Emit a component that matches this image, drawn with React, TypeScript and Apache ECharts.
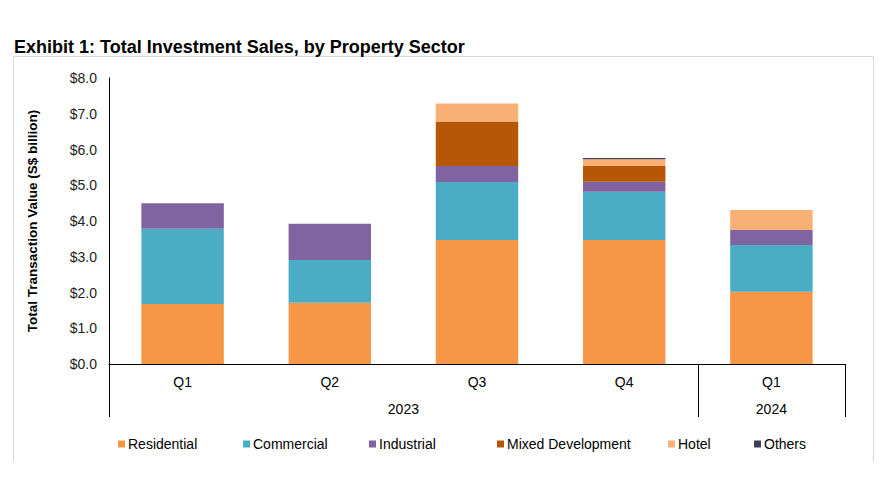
import React, { useEffect, useRef } from "react";
import * as echarts from "echarts";

const quarters = ["Q1", "Q2", "Q3", "Q4", "Q1"];
const years = ["2023", "2024"];
const yearSpans = [4, 1];
const yTicks = [0, 1, 2, 3, 4, 5, 6, 7, 8];

const residential = [1.68, 1.71, 3.47, 3.47, 2.02];
const commercial = [2.1, 1.2, 1.62, 1.35, 1.31];
const industrial = [0.72, 1.01, 0.45, 0.28, 0.42];
const mixedDevelopment = [0, 0, 1.24, 0.44, 0];
const hotel = [0, 0, 0.51, 0.19, 0.56];
const others = [0, 0, 0, 0.03, 0];

const seriesNames = ["Residential", "Commercial", "Industrial", "Mixed Development", "Hotel", "Others"];
const seriesData = [residential, commercial, industrial, mixedDevelopment, hotel, others];
const colors = ["#F79646", "#4BACC6", "#8064A2", "#B65708", "#F9B074", "#403C58"];
const legendLefts = [118, 243, 369, 497, 668, 754];

export default function App() {
  const ref = useRef<HTMLDivElement>(null);
  useEffect(() => {
    if (!ref.current) return;
    const chart = echarts.init(ref.current, null, { renderer: "svg" });
    const font = "'Liberation Sans', Arial, sans-serif";
    const yearPos: Record<string, string> = {};
    let acc = 0;
    years.forEach((y, i) => {
      yearPos[String(acc + yearSpans[i] / 2)] = y;
      acc += yearSpans[i];
    });
    const boundaries = new Set<number>();
    let b = 0;
    yearSpans.forEach((s) => {
      boundaries.add(b);
      b += s;
    });
    chart.setOption({
      animation: false,
      color: colors,
      title: {
        text: "Exhibit 1: Total Investment Sales, by Property Sector",
        left: 9,
        top: 33,
        textStyle: { fontFamily: font, fontSize: 18, fontWeight: "bold", color: "#000" },
      },
      graphic: [
        {
          type: "polyline",
          shape: { points: [[13.5, 462], [13.5, 56.5], [873.5, 56.5], [873.5, 462]] },
          style: { stroke: "#d9d9d9", fill: "none", lineWidth: 1 },
          silent: true,
        },
      ],
      legend: seriesNames.map((n, i) => ({
        data: [n],
        left: legendLefts[i],
        top: 437,
        padding: 0,
        icon: "rect",
        itemWidth: 7,
        itemHeight: 7,
        textStyle: { fontFamily: font, fontSize: 14, color: "#000", padding: [0, 0, 0, -2] },
        selectedMode: false,
      })),
      grid: { left: 109, right: 39, top: 78, bottom: 133 },
      xAxis: [
        {
          type: "category",
          data: quarters,
          axisLine: { show: true, lineStyle: { color: "#000", width: 1 } },
          axisTick: {
            show: true,
            length: 53,
            interval: (idx: number) => boundaries.has(idx),
            lineStyle: { color: "#000", width: 1 },
          },
          axisLabel: { interval: 0, margin: 11, fontFamily: font, fontSize: 14, color: "#000" },
        },
        {
          type: "value",
          position: "bottom",
          offset: 27,
          min: 0,
          max: quarters.length,
          interval: 0.5,
          axisLine: { show: false },
          axisTick: { show: false },
          splitLine: { show: false },
          axisLabel: {
            margin: 11,
            fontFamily: font,
            fontSize: 14,
            color: "#000",
            showMinLabel: true,
            showMaxLabel: true,
            formatter: (v: number) => yearPos[String(v)] || "",
          },
        },
      ],
      yAxis: {
        type: "value",
        min: yTicks[0],
        max: yTicks[yTicks.length - 1],
        interval: 1,
        name: "Total Transaction Value (S$ billion)",
        nameLocation: "middle",
        nameGap: 70,
        nameTextStyle: { fontFamily: font, fontSize: 13.5, fontWeight: "bold", color: "#000" },
        axisLine: { show: true, lineStyle: { color: "#000", width: 1 } },
        axisTick: { show: false },
        splitLine: { show: false },
        axisLabel: {
          margin: 12,
          fontFamily: font,
          fontSize: 14,
          color: "#222",
          formatter: (v: number) => "$" + v.toFixed(1),
        },
      },
      series: seriesNames.map((n, i) => ({
        name: n,
        type: "bar",
        stack: "total",
        barWidth: "56%",
        xAxisIndex: 0,
        data: seriesData[i],
        itemStyle: { color: colors[i] },
      })),
    });
    return () => chart.dispose();
  }, []);
  return <div ref={ref} style={{ width: 884, height: 497, position: "absolute", left: 0, top: 0 }} />;
}
